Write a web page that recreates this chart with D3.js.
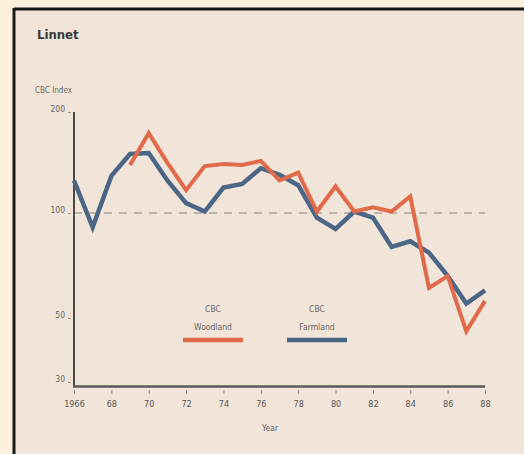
<!DOCTYPE html>
<html>
<head>
<meta charset="utf-8">
<script src="https://d3js.org/d3.v7.min.js"></script>
<style>
body { margin: 0; background: #faf0dc; }
svg { display: block; }
</style>
</head>
<body>
<svg width="524" height="454"></svg>
<script>
// CBC index, Linnet
var years = d3.range(1966, 1989);
var farmland = [125, 91, 129, 150, 151, 125, 107, 101, 119, 122, 136, 130, 121, 97, 90, 101, 97, 80, 83, 77, 66, 55, 60];
var woodlandYears = d3.range(1969, 1989);
var woodland = [139, 173, 141, 117, 138, 140, 139, 143, 125, 132, 101, 120, 101, 104, 101, 112, 61, 66, 45, 56];
var yTicks = [30, 50, 100, 200];
var xTicks = d3.range(1966, 1989, 2);

var svg = d3.select('svg');
var font = '"DejaVu Sans Condensed", "Liberation Sans Narrow", sans-serif';

// panel
svg.append('rect').attr('x', 0).attr('y', 0).attr('width', 524).attr('height', 454).attr('fill', '#faf0dc');
svg.append('rect').attr('x', 14).attr('y', 9).attr('width', 510).attr('height', 445)
  .attr('fill', '#f1e5d9');
svg.append('line').attr('x1', 14).attr('x2', 524).attr('y1', 9).attr('y2', 9)
  .attr('stroke', '#1a1a1a').attr('stroke-width', 3);
svg.append('line').attr('x1', 14).attr('x2', 14).attr('y1', 8).attr('y2', 454)
  .attr('stroke', '#1a1a1a').attr('stroke-width', 3);

var x = d3.scaleLinear().domain([1966, 1988]).range([74, 485]);
var y = d3.scaleLog().domain([30, 50, 100, 200]).range([382, 318, 213, 112]);

svg.append('text').attr('x', 37).attr('y', 39).text('Linnet')
  .attr('font-family', font).attr('font-weight', 'bold').attr('font-size', 13).attr('fill', '#3a3a3a');
svg.append('text').attr('x', 35).attr('y', 93).text('CBC Index')
  .attr('font-family', font).attr('font-size', 8).attr('fill', '#6a6a6a');

// reference line at 100
svg.append('line').attr('x1', x(1966)).attr('x2', x(1988)).attr('y1', y(100)).attr('y2', y(100))
  .attr('stroke', '#aaa298').attr('stroke-width', 1.5).attr('stroke-dasharray', '8,7');

// axes
var xAxis = d3.axisBottom(x).tickValues(xTicks).tickSize(4)
  .tickFormat(function(d) { return d == 1966 ? '1966' : String(d).slice(2); });
var gx = svg.append('g').attr('transform', 'translate(0,387)').call(xAxis);
gx.select('.domain').remove();
gx.selectAll('line').attr('stroke', '#888').attr('transform', 'translate(0,3)');
gx.selectAll('text').attr('font-family', font).attr('font-size', 9).attr('fill', '#555').attr('dy', '1.45em');

var yAxis = d3.axisLeft(y).tickValues(yTicks).tickSize(3).tickFormat(d3.format('d'));
var gy = svg.append('g').attr('transform', 'translate(71,0)').call(yAxis);
gy.select('.domain').remove();
gy.selectAll('line').attr('stroke', '#999');
gy.selectAll('text').attr('font-family', font).attr('font-size', 8.5).attr('fill', '#666').attr('dy', '-0.1em');

svg.append('line').attr('x1', 74).attr('x2', 74).attr('y1', 112).attr('y2', 387)
  .attr('stroke', '#4a4a4a').attr('stroke-width', 2);
svg.append('line').attr('x1', 73).attr('x2', x(1988)).attr('y1', 386.5).attr('y2', 386.5)
  .attr('stroke', '#5a5a5a').attr('stroke-width', 2.5);

svg.append('text').attr('x', 270).attr('y', 431).attr('text-anchor', 'middle').text('Year')
  .attr('font-family', font).attr('font-size', 8.5).attr('fill', '#666');

// series
var line = d3.line().x(function(d) { return x(d[0]); }).y(function(d) { return y(d[1]); });
svg.append('path').datum(d3.zip(years, farmland)).attr('d', line)
  .attr('fill', 'none').attr('stroke', '#4c6686').attr('stroke-width', 4.5).attr('stroke-linejoin', 'miter');
svg.append('path').datum(d3.zip(woodlandYears, woodland)).attr('d', line)
  .attr('fill', 'none').attr('stroke', '#e06a4a').attr('stroke-width', 4).attr('stroke-linejoin', 'miter');

// legend
var legend = [
  { name: 'Woodland', color: '#e06a4a', cx: 213 },
  { name: 'Farmland', color: '#4c6686', cx: 317 }
];
legend.forEach(function(l) {
  svg.append('text').attr('x', l.cx).attr('y', 312).attr('text-anchor', 'middle').text('CBC')
    .attr('font-family', font).attr('font-size', 8.5).attr('fill', '#666');
  svg.append('text').attr('x', l.cx).attr('y', 330).attr('text-anchor', 'middle').text(l.name)
    .attr('font-family', font).attr('font-size', 8.5).attr('fill', '#666');
  svg.append('line').attr('x1', l.cx - 30).attr('x2', l.cx + 30).attr('y1', 340).attr('y2', 340)
    .attr('stroke', l.color).attr('stroke-width', 4.5);
});
</script>
</body>
</html>
